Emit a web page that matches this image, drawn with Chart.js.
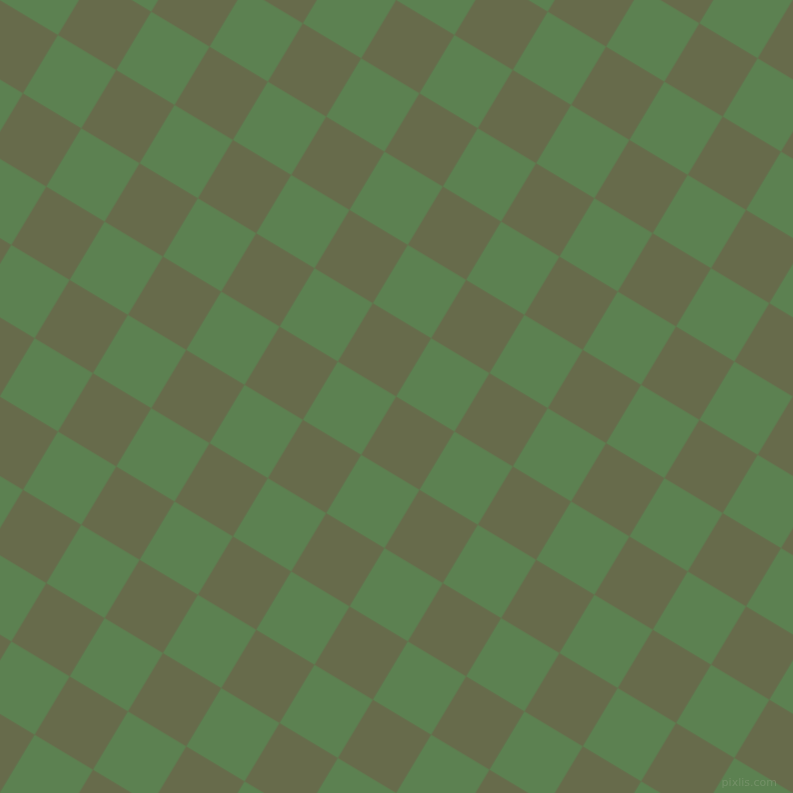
<!DOCTYPE html>
<html>
<head>
<meta charset="utf-8">
<script src="https://cdn.jsdelivr.net/npm/chart.js@4/dist/chart.umd.min.js"></script>
<style>
  html, body { margin: 0; padding: 0; width: 793px; height: 793px; overflow: hidden; background: #676b4b; }
  #wrap {
    position: absolute;
    left: -68px;
    top: -476px;
    width: 1224px;
    height: 1224px;
    transform-origin: 68px 476px;
    transform: rotate(30.96deg);
  }
  #mark {
    position: absolute;
    right: 16px;
    bottom: 4px;
    font-family: "DejaVu Sans", sans-serif;
    font-size: 11px;
    color: rgba(140, 160, 125, 0.5);
  }
</style>
</head>
<body>
<div id="wrap"><canvas id="board" width="1224" height="1224"></canvas></div>
<div id="mark">pixlis.com</div>
<script>
  // columns and rows of the tilted grid, in cell units
  const columns = [-1, 0, 1, 2, 3, 4, 5, 6, 7, 8, 9, 10, 11, 12, 13, 14, 15, 16];
  const rows = [-7, -6, -5, -4, -3, -2, -1, 0, 1, 2, 3, 4, 5, 6, 7, 8, 9, 10];
  const GREEN = '#5c8151';
  const OLIVE = '#676b4b';

  // one floating-bar dataset per row, each cell one unit tall
  const datasets = rows.map(r => ({
    data: columns.map(() => [r, r + 1]),
    backgroundColor: columns.map(c => ((c + r) % 2 !== 0 ? GREEN : OLIVE)),
    borderWidth: 0,
    barPercentage: 1,
    categoryPercentage: 1,
    grouped: false
  }));

  new Chart(document.getElementById('board').getContext('2d'), {
    type: 'bar',
    data: { labels: columns.map(String), datasets },
    options: {
      responsive: false,
      animation: false,
      devicePixelRatio: 1,
      layout: { padding: 0 },
      plugins: { legend: { display: false }, tooltip: { enabled: false } },
      scales: {
        x: { display: false, offset: true, grid: { display: false } },
        y: { display: false, min: -7, max: 11, reverse: true, grid: { display: false } }
      }
    }
  });
</script>
</body>
</html>
